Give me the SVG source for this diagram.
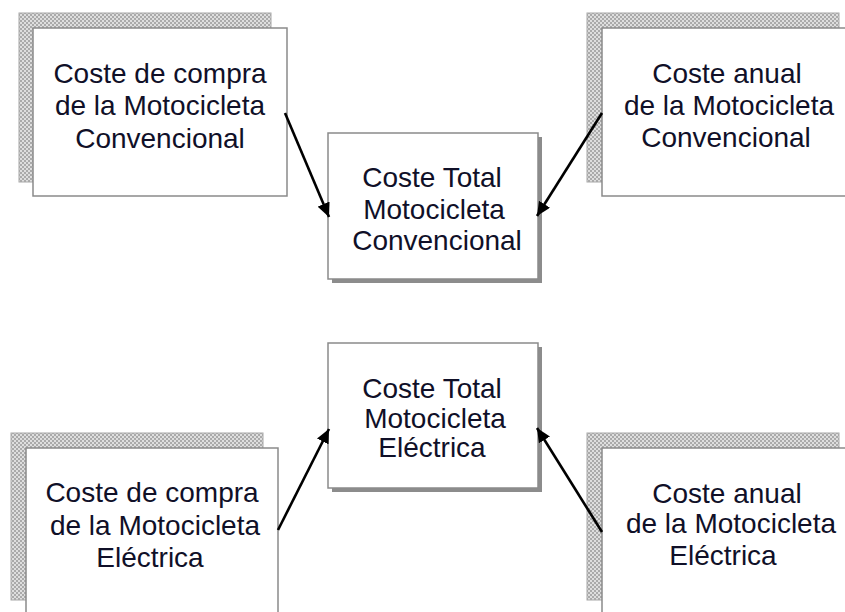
<svg xmlns="http://www.w3.org/2000/svg" width="845" height="612" viewBox="0 0 845 612">
<style>
.box{fill:#fff;stroke:#8a8a8a;stroke-width:1.5}
.hatch{fill:url(#dots);stroke:#a8a8a8;stroke-width:1}
.drop{fill:#8c8c8c}
.t{font-family:"Liberation Sans",Arial,sans-serif;font-size:28px;fill:#101028;text-anchor:middle}
.conn{stroke:#000;stroke-width:2.6;fill:none}
</style>
<defs>
<pattern id="dots" width="4" height="4" patternUnits="userSpaceOnUse">
<rect width="4" height="4" fill="#dedede"/>
<rect width="2" height="2" fill="#aaaaaa"/>
<rect x="2" y="2" width="2" height="2" fill="#aaaaaa"/>
</pattern>
<marker id="ah" markerUnits="userSpaceOnUse" markerWidth="15" markerHeight="13" refX="14" refY="6.5" orient="auto">
<path d="M0,0 L14,6.5 L0,13 Z" fill="#000"/>
</marker>
</defs>
<g id="n-compra-conv">
<rect class="hatch" x="19" y="13" width="252" height="169"/>
<rect class="box" x="33" y="28" width="254" height="168"/>
<text class="t" x="160" y="83">Coste de compra</text>
<text class="t" x="160" y="115">de la Motocicleta</text>
<text class="t" x="160" y="148">Convencional</text>
</g>
<g id="n-anual-conv">
<rect class="hatch" x="587" y="13" width="252" height="169"/>
<rect class="box" x="602" y="28" width="254" height="168"/>
<text class="t" x="727" y="83">Coste anual</text>
<text class="t" x="729" y="115">de la Motocicleta</text>
<text class="t" x="726" y="147">Convencional</text>
</g>
<g id="n-total-conv">
<rect class="drop" x="332" y="137" width="210" height="146"/>
<rect class="box" x="328" y="133" width="210" height="146"/>
<text class="t" x="432" y="187">Coste Total</text>
<text class="t" x="434" y="219">Motocicleta</text>
<text class="t" x="437" y="250">Convencional</text>
</g>
<g id="n-total-elec">
<rect class="drop" x="332" y="347" width="210" height="145"/>
<rect class="box" x="328" y="343" width="210" height="145"/>
<text class="t" x="432" y="398">Coste Total</text>
<text class="t" x="435" y="428">Motocicleta</text>
<text class="t" x="432" y="457">Eléctrica</text>
</g>
<g id="n-compra-elec">
<rect class="hatch" x="11" y="433" width="252" height="167"/>
<rect class="box" x="26" y="448" width="252" height="180"/>
<text class="t" x="152" y="502">Coste de compra</text>
<text class="t" x="155" y="535">de la Motocicleta</text>
<text class="t" x="150" y="567">Eléctrica</text>
</g>
<g id="n-anual-elec">
<rect class="hatch" x="587" y="433" width="252" height="167"/>
<rect class="box" x="602" y="448" width="254" height="180"/>
<text class="t" x="727" y="503">Coste anual</text>
<text class="t" x="731" y="533">de la Motocicleta</text>
<text class="t" x="723" y="565">Eléctrica</text>
</g>
<g id="connectors">
<line class="conn" x1="285" y1="113" x2="329" y2="217" marker-end="url(#ah)"/>
<line class="conn" x1="602" y1="113" x2="537" y2="216" marker-end="url(#ah)"/>
<line class="conn" x1="278" y1="530" x2="329" y2="429" marker-end="url(#ah)"/>
<line class="conn" x1="602" y1="532" x2="537" y2="428" marker-end="url(#ah)"/>
</g>
</svg>
